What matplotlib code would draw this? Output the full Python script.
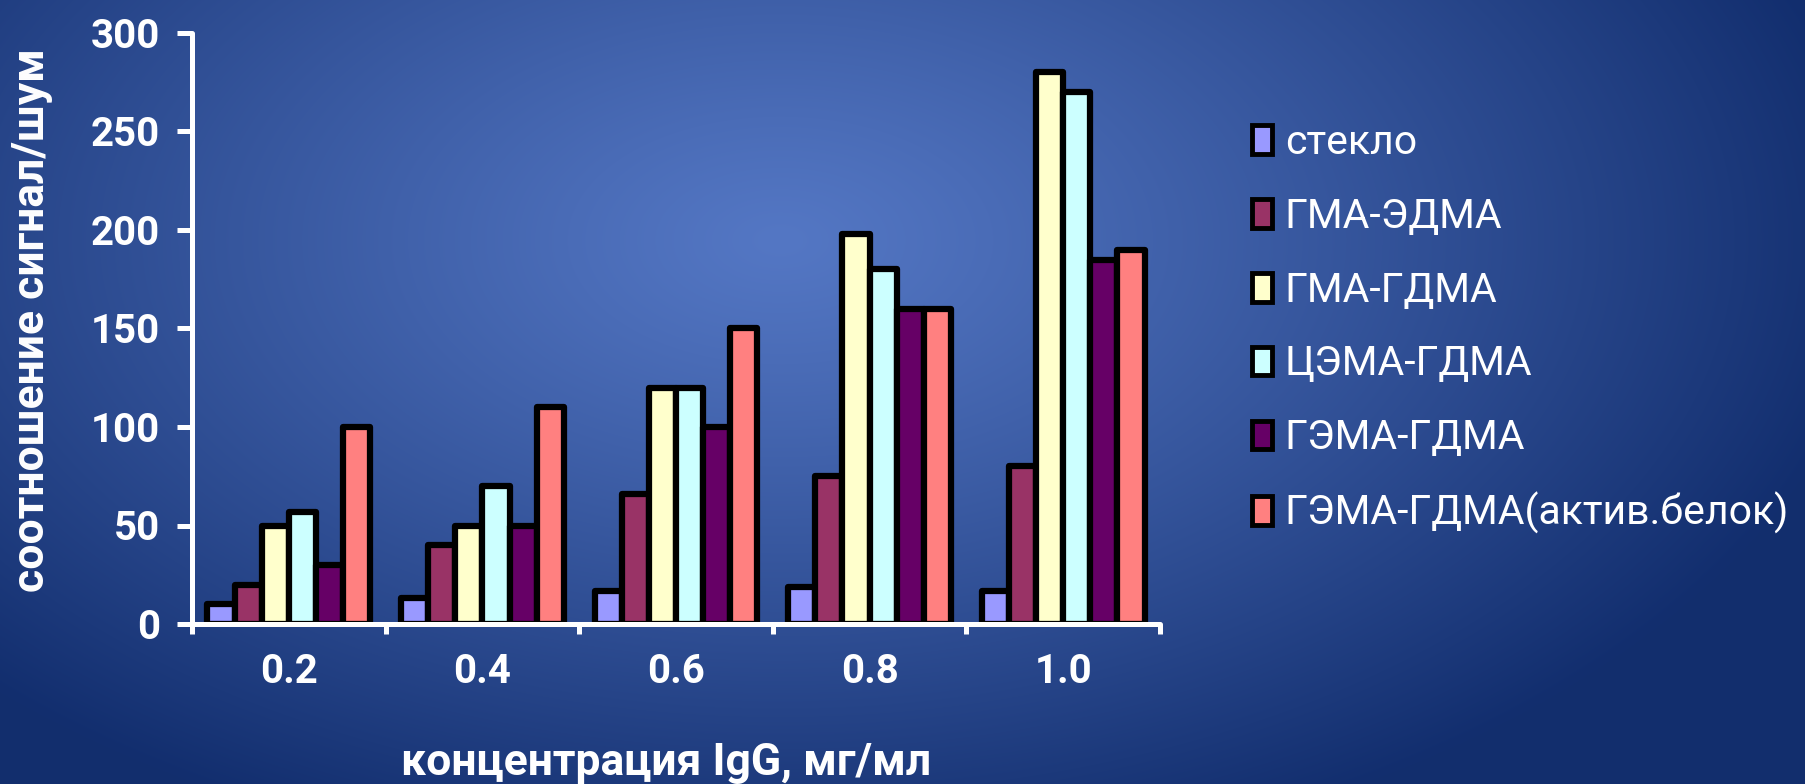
import numpy as np
import matplotlib
matplotlib.use("Agg")
import matplotlib.pyplot as plt
from matplotlib.patches import Patch

# --- data -------------------------------------------------------------
concentrations = ["0.2", "0.4", "0.6", "0.8", "1.0"]
series_names = ["стекло", "ГМА-ЭДМА", "ГМА-ГДМА", "ЦЭМА-ГДМА",
                "ГЭМА-ГДМА", "ГЭМА-ГДМА(актив.белок)"]
steklo = [10, 13, 17, 19, 17]
gma_edma = [20, 40, 66, 75, 80]
gma_gdma = [50, 50, 120, 198, 280]
cema_gdma = [57, 70, 120, 180, 270]
gema_gdma = [30, 50, 100, 160, 185]
gema_gdma_active = [100, 110, 150, 160, 190]
series_colors = ["#9999FF", "#993366", "#FFFFCC", "#CCFFFF", "#660066", "#FF8080"]
y_ticks = [0, 50, 100, 150, 200, 250, 300]
x_label = "концентрация IgG, мг/мл"
y_label = "соотношение сигнал/шум"

series_values = [steklo, gma_edma, gma_gdma, cema_gdma, gema_gdma, gema_gdma_active]

plt.rcParams["font.family"] = ["Roboto", "DejaVu Sans"]

W, H = 1805, 784
fig = plt.figure(figsize=(W / 100, H / 100), dpi=100)

# radial blue backdrop
bg = fig.add_axes([0, 0, 1, 1], zorder=0)
yy, xx = np.mgrid[0:H, 0:W]
d = np.sqrt(((xx - 780) / 1100.0) ** 2 + ((yy - 240) / 640.0) ** 2)
d = np.clip(d, 0, 1)
inner = np.array([84, 119, 196]) / 255.0
outer = np.array([18, 46, 110]) / 255.0
img = inner + (outer - inner) * (d[..., None] ** 1.15)
bg.imshow(img, extent=[0, 1, 0, 1], aspect="auto", origin="upper")
bg.axis("off")

# --- bar chart ----------------------------------------------------------
ax = fig.add_axes([192 / W, 1 - 624 / H, (1160 - 192) / W, (624 - 33) / H], zorder=1)
ax.patch.set_alpha(0)

x = np.arange(len(concentrations))
n = len(series_values)
group = 0.84
bw = group / n
for i, (vals, col, name) in enumerate(zip(series_values, series_colors, series_names)):
    ax.bar(x - group / 2 + bw * (i + 0.5), vals, bw, color=col, edgecolor="black",
           linewidth=4.5, joinstyle="round", label=name)

ax.set_xlim(-0.5, len(concentrations) - 0.5)
ax.set_ylim(0, 300)

for side in ("top", "right"):
    ax.spines[side].set_visible(False)
for side in ("left", "bottom"):
    ax.spines[side].set_color("white")
    ax.spines[side].set_linewidth(3.6)
    ax.spines[side].set_capstyle("round")
    ax.spines[side].set_zorder(5)

ax.set_yticks(y_ticks)
ax.set_yticklabels([str(v) for v in y_ticks])
ax.set_xticks(x)
ax.set_xticklabels(concentrations)
ax.set_xticks(np.arange(len(concentrations) + 1) - 0.5, minor=True)

ax.tick_params(axis="y", which="major", length=11, width=3.6, color="white",
               direction="out", pad=12, labelsize=29, labelcolor="white")
ax.tick_params(axis="x", which="major", length=0, pad=21, labelsize=29,
               labelcolor="white")
ax.tick_params(axis="x", which="minor", length=7, width=3.6, color="white",
               direction="out")
for lab in ax.get_xticklabels() + ax.get_yticklabels():
    lab.set_fontweight("bold")

ax.set_xlabel(x_label, fontsize=32, fontweight="bold", color="white")
ax.xaxis.label.set_va("center")
ax.xaxis.set_label_coords((666 - 192) / 968, (624 - 763) / 591)
ax.set_ylabel(y_label, fontsize=32, fontweight="bold", color="white")
ax.yaxis.label.set_va("center")
ax.yaxis.set_label_coords((32 - 192) / 968, (624 - 320) / 591)

handles = [Patch(facecolor=c, edgecolor="black", linewidth=3.5) for c in series_colors]
fig.legend(handles, series_names, loc="upper left",
           bbox_to_anchor=(1252 / W, 1 - 123 / H), frameon=False,
           fontsize=29.5, labelcolor="white", handlelength=0.5, handleheight=0.7,
           handletextpad=0.3, labelspacing=0.85, borderpad=0, borderaxespad=0)

fig.savefig("out.png", dpi=100)
